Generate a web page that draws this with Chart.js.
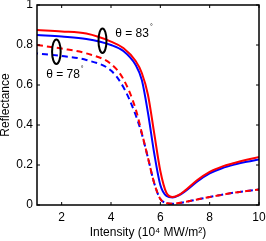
<!DOCTYPE html>
<html>
<head>
<meta charset="utf-8">
<script src="https://cdn.jsdelivr.net/npm/chart.js@4/dist/chart.umd.min.js"></script>
<style>
  html, body { margin: 0; padding: 0; background: #fff; }
</style>
</head>
<body>
<canvas id="reflChart" width="266" height="241"></canvas>
<script>
// intensity in 10^4 MW/m^2
const intensity = [1, 2, 3, 4, 4.5, 5, 5.25, 5.5, 5.75, 6, 6.25, 6.5, 6.75, 7, 7.5, 8, 8.5, 9, 9.5, 10];

// theta = 83 deg (solid)
const red83  = [0.875, 0.868, 0.857, 0.817, 0.785, 0.72, 0.66, 0.55, 0.36, 0.17, 0.06, 0.04, 0.05, 0.072, 0.125, 0.166, 0.192, 0.21, 0.226, 0.24];
const blue83 = [0.85, 0.842, 0.83, 0.80, 0.77, 0.70, 0.625, 0.46, 0.26, 0.1, 0.045, 0.037, 0.048, 0.068, 0.118, 0.158, 0.184, 0.202, 0.216, 0.228];

// theta = 78 deg (dashed)
const red78  = [0.80, 0.782, 0.758, 0.705, 0.63, 0.48, 0.36, 0.235, 0.11, 0.03, 0.01, 0.006, 0.01, 0.015, 0.028, 0.04, 0.051, 0.062, 0.07, 0.077];
const blue78 = [0.758, 0.745, 0.725, 0.672, 0.59, 0.45, 0.355, 0.235, 0.11, 0.03, 0.01, 0.006, 0.01, 0.015, 0.028, 0.04, 0.051, 0.062, 0.07, 0.077];

const xTicks = [2, 4, 6, 8, 10];
const yTicks = [0, 0.2, 0.4, 0.6, 0.8, 1];
const yTickLabels = ['0', '0.2', '0.4', '0.6', '0.8', '1'];

// ellipses + angle labels, in data units
const rings = [{ x: 3.655, y: 0.8215, rx: 4, ry: 12.3 }, { x: 1.785, y: 0.7665, rx: 4.3, ry: 12.3 }];
const notes = [{ text: 'θ = 83', x: 4.17, y: 0.8575 }, { text: 'θ = 78', x: 1.37, y: 0.65 }];

const FONT = '"Liberation Sans", Arial, Helvetica, sans-serif';

const pts = vals => vals.map((v, i) => ({ x: intensity[i], y: v }));

function line(data, color, dashed, offset) {
  return {
    data: pts(data),
    borderColor: color,
    borderWidth: 2,
    borderDash: dashed ? [6, 4] : [],
    borderDashOffset: offset || 0,
    pointRadius: 0,
    fill: false,
    cubicInterpolationMode: 'monotone'
  };
}

const framePlugin = {
  id: 'frame',
  afterDatasetsDraw(chart) {
    const { ctx, chartArea: a, scales: { x, y } } = chart;
    ctx.save();
    ctx.strokeStyle = '#000';
    ctx.lineWidth = 1.5;
    ctx.strokeRect(a.left, a.top, a.right - a.left, a.bottom - a.top);

    // inward ticks on all four sides
    ctx.lineWidth = 1;
    ctx.beginPath();
    xTicks.forEach(v => {
      const px = x.getPixelForValue(v);
      ctx.moveTo(px, a.bottom); ctx.lineTo(px, a.bottom - 3);
      ctx.moveTo(px, a.top); ctx.lineTo(px, a.top + 3);
    });
    yTicks.forEach(v => {
      const py = y.getPixelForValue(v);
      ctx.moveTo(a.left, py); ctx.lineTo(a.left + 3, py);
      ctx.moveTo(a.right, py); ctx.lineTo(a.right - 3, py);
    });
    ctx.stroke();

    ctx.lineWidth = 2;
    rings.forEach(r => {
      ctx.beginPath();
      ctx.ellipse(x.getPixelForValue(r.x), y.getPixelForValue(r.y), r.rx, r.ry, 0, 0, 2 * Math.PI);
      ctx.stroke();
    });

    ctx.fillStyle = '#000';
    ctx.textBaseline = 'middle';
    notes.forEach(n => {
      const px = x.getPixelForValue(n.x), py = y.getPixelForValue(n.y);
      ctx.font = '12px ' + FONT;
      ctx.fillText(n.text, px, py);
      const w = ctx.measureText(n.text).width;
      ctx.font = '7px ' + FONT;
      ctx.fillText('°', px + w + 1, py - 6);
    });
    ctx.restore();
  }
};

new Chart(document.getElementById('reflChart'), {
  type: 'line',
  data: {
    datasets: [
      line(red83, '#ff0000', false),
      line(blue83, '#0000ff', false),
      line(red78, '#ff0000', true, 0),
      line(blue78, '#0000ff', true, 5)
    ]
  },
  options: {
    responsive: false,
    animation: false,
    devicePixelRatio: 1,
    layout: { padding: 0 },
    plugins: { legend: { display: false }, tooltip: { enabled: false } },
    scales: {
      x: {
        type: 'linear',
        min: 1,
        max: 10,
        afterBuildTicks: s => { s.ticks = xTicks.map(v => ({ value: v })); },
        afterFit: s => { s.height = 36; s.paddingLeft = 0; s.paddingRight = 7; },
        grid: { display: false, drawTicks: false },
        border: { display: false },
        ticks: { color: '#000', padding: 5, maxRotation: 0, font: { family: FONT, size: 12 } },
        title: {
          display: true,
          text: 'Intensity (10⁴ MW/m²)',
          color: '#000',
          padding: { top: 0, bottom: 1 },
          font: { family: FONT, size: 12 }
        }
      },
      y: {
        type: 'linear',
        min: 0,
        max: 1,
        afterBuildTicks: s => { s.ticks = yTicks.map(v => ({ value: v })); },
        afterFit: s => { s.width = 37; s.paddingTop = 5; s.paddingBottom = 0; },
        grid: { display: false, drawTicks: false },
        border: { display: false },
        ticks: {
          color: '#000',
          padding: 4,
          font: { family: FONT, size: 12 },
          callback: (v, i) => yTickLabels[i]
        },
        title: {
          display: true,
          text: 'Reflectance',
          color: '#000',
          padding: { top: 0, bottom: 0 },
          font: { family: FONT, size: 12, lineHeight: 1 }
        }
      }
    }
  },
  plugins: [framePlugin]
});
</script>
</body>
</html>
